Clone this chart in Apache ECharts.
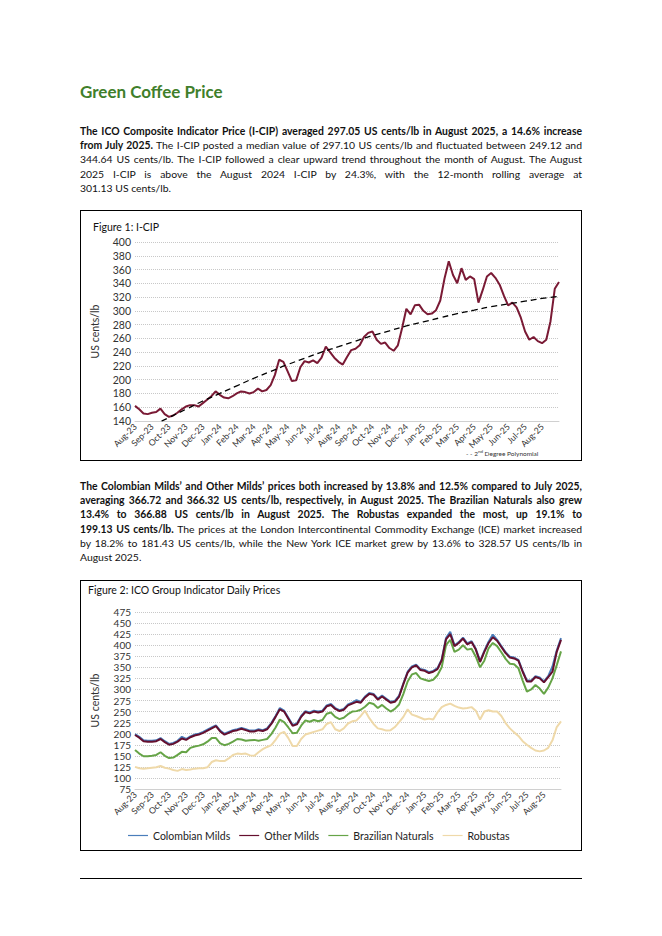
<!DOCTYPE html>
<html>
<head>
<meta charset="utf-8">
<script src="https://cdn.jsdelivr.net/npm/echarts/dist/echarts.min.js"></script>
<style>
html,body{margin:0;padding:0;}
body{width:662px;height:936px;background:#fff;position:relative;font-family:Lato,"Noto Sans",sans-serif;color:#111;overflow:hidden;}
.title{position:absolute;left:80px;top:82px;font-size:17px;font-weight:bold;color:#3f7f2b;line-height:20px;white-space:nowrap;}
.para{position:absolute;left:80px;width:502px;font-size:10.4px;line-height:14.2px;}
.ln{white-space:nowrap;height:14.2px;}
.box{position:absolute;left:80px;width:502px;border:1px solid #000;box-sizing:border-box;}
.chart{position:absolute;left:0;top:0;width:500px;}
.rule{position:absolute;left:80px;top:878px;width:502px;height:1px;background:#000;}
</style>
</head>
<body>
<div class="title">Green Coffee Price</div>
<div class="para" style="top:124px;">
  <div class="ln j"><span><b>The ICO Composite Indicator Price (I-CIP) averaged 297.05 US cents/lb in August 2025, a 14.6% increase</b></span></div>
  <div class="ln j"><span><b>from July 2025.</b> The I-CIP posted a median value of 297.10 US cents/lb and fluctuated between 249.12 and</span></div>
  <div class="ln j"><span>344.64 US cents/lb. The I-CIP followed a clear upward trend throughout the month of August. The August</span></div>
  <div class="ln j"><span>2025 I-CIP is above the August 2024 I-CIP by 24.3%, with the 12-month rolling average at</span></div>
  <div class="ln"><span>301.13 US cents/lb.</span></div>
</div>
<div class="box" style="top:210px;height:251px;"><div id="c1" class="chart" style="height:249px;"></div></div>
<div class="para" style="top:479px;">
  <div class="ln j"><span><b>The Colombian Milds’ and Other Milds’ prices both increased by 13.8% and 12.5% compared to July 2025,</b></span></div>
  <div class="ln j"><span><b>averaging 366.72 and 366.32 US cents/lb, respectively, in August 2025. The Brazilian Naturals also grew</b></span></div>
  <div class="ln j"><span><b>13.4% to 366.88 US cents/lb in August 2025. The Robustas expanded the most, up 19.1% to</b></span></div>
  <div class="ln j"><span><b>199.13 US cents/lb.</b> The prices at the London Intercontinental Commodity Exchange (ICE) market increased</span></div>
  <div class="ln j"><span>by 18.2% to 181.43 US cents/lb, while the New York ICE market grew by 13.6% to 328.57 US cents/lb in</span></div>
  <div class="ln"><span>August 2025.</span></div>
</div>
<div class="box" style="top:580px;height:271px;"><div id="c2" class="chart" style="height:269px;"></div></div>
<div class="rule"></div>
<script>
// justify each line to the column width
document.querySelectorAll('.ln.j').forEach(function(el){
  var s = el.firstElementChild;
  var w = s.getBoundingClientRect().width;
  var txt = el.textContent.trim();
  var n = (txt.match(/ /g)||[]).length;
  var diff = 502 - w;
  if (diff < -n*0.8) {
    s.style.letterSpacing = ((diff + n*0.8)/txt.length) + 'px';
    w = s.getBoundingClientRect().width;
    diff = 502 - w;
  }
  s.style.wordSpacing = (diff/n) + 'px';
});

// ---------- data ----------
var months = ['Aug-23','Sep-23','Oct-23','Nov-23','Dec-23','Jan-24','Feb-24','Mar-24','Apr-24','May-24','Jun-24','Jul-24',
              'Aug-24','Sep-24','Oct-24','Nov-24','Dec-24','Jan-25','Feb-25','Mar-25','Apr-25','May-25','Jun-25','Jul-25','Aug-25'];

// weekly readings (4 per month, plus end of Aug-25)
var icip = [162,157,151,150, 152,153,158,150, 146,148,152,157, 161,163,163,161, 166,171,176,183,
            178,174,173,176, 180,183,182,180, 182,187,183,185, 192,207,229,226, 212,198,199,218,
            227,225,228,224, 232,248,240,232, 226,222,233,243, 245,250,262,268, 270,258,252,254,
            246,242,250,275, 303,295,308,309, 300,295,296,301, 315,347,372,352, 340,362,345,350,
            346,312,330,350, 355,348,338,322, 308,312,305,290, 270,258,262,256, 253,258,285,332, 342];

// 2nd degree polynomial trend, read monthly
var icipTrend = [120,133,145,157,169,180,191,202,212,222,231,240,248,256,264,271,278,284,290,296,301,306,310,314,318,321];

var colombian = [199,193,185,184, 184,185,190,183, 177,179,184,193, 188,194,198,200, 204,209,214,219,
                 207,200,204,208, 210,213,210,207, 207,210,208,212, 224,240,258,252, 236,220,223,240,
                 251,248,252,250, 252,264,267,258, 253,256,266,270, 276,272,284,292, 290,279,286,279,
                 272,274,286,314, 340,352,356,346, 344,339,342,348, 368,416,430,400, 407,417,404,409,
                 392,364,387,408, 424,412,398,384, 374,372,367,342, 320,320,330,327, 318,330,352,388, 416];
var otherMilds = [197,191,183,182, 182,183,188,181, 175,177,182,189, 186,192,196,198, 202,207,212,217,
                  205,198,202,206, 208,211,208,205, 205,208,206,210, 222,238,255,250, 234,218,221,238,
                  249,246,250,248, 250,262,265,256, 251,254,264,268, 272,270,282,290, 288,277,284,277,
                  270,272,284,312, 338,350,354,344, 342,337,340,346, 366,413,425,398, 405,415,402,407,
                  390,362,385,405, 418,410,396,382, 372,370,365,340, 318,318,328,325, 316,328,340,385, 412];
var brazilian = [163,155,149,149, 150,152,158,150, 145,146,152,159, 158,168,171,173, 176,182,190,190,
                 178,174,177,182, 188,187,184,185, 186,184,186,188, 199,214,232,226, 214,201,202,218,
                 230,227,231,228, 231,245,248,238, 233,236,244,250, 251,254,261,270, 267,258,265,257,
                 250,256,266,290, 318,334,337,325, 322,319,322,332, 350,400,412,385, 390,400,390,392,
                 374,350,365,393, 405,398,384,369, 358,357,348,320, 295,300,310,302, 290,304,325,355, 386];
var robustas = [125,122,121,122, 123,124,127,123, 121,118,116,120, 118,119,121,122, 122,124,136,140,
                138,138,144,152, 155,154,155,151, 150,158,165,170, 174,186,200,204, 190,172,172,188,
                198,201,204,207, 210,222,226,210, 206,212,223,228, 230,240,252,235, 222,212,210,207,
                208,215,226,238, 255,243,240,236, 232,234,232,248, 260,265,268,263, 259,257,258,260,
                252,232,250,253, 250,250,240,224, 212,203,195,183, 175,168,162,160, 162,168,185,215, 228];

var groupNames = ['Colombian Milds','Other Milds','Brazilian Naturals','Robustas'];
var groupColors = ['#4a7ebb','#650f2e','#66a447','#efd9a9'];

// ---------- axis categories ----------
var cats = [];
months.forEach(function(m){ for (var j=0;j<4;j++) cats.push(m+'#'+j); });
cats.push('end#1');

var FONT = 'Lato';
function xAxisCfg(){
  return {
    type:'category', data:cats, boundaryGap:false,
    axisLine:{lineStyle:{color:'#d0d0d0', width:1}},
    axisTick:{show:false},
    splitLine:{show:false},
    axisLabel:{
      rotate:45, fontSize:8.7, color:'#333', fontFamily:FONT, margin:4,
      interval:function(i, v){ return v.split('#')[1]==='0'; },
      formatter:function(v){ var p=v.split('#'); return p[1]==='0' ? p[0] : ''; }
    }
  };
}
function yAxisCfg(min,max,step,fs){
  return {
    type:'value', min:min, max:max, interval:step,
    name:'US cents/lb', nameLocation:'middle', nameGap:35,
    nameTextStyle:{fontSize:10.5, color:'#333', fontFamily:FONT},
    axisLine:{show:false}, axisTick:{show:false},
    axisLabel:{fontSize:fs, color:'#333', fontFamily:FONT, margin:4},
    splitLine:{lineStyle:{type:[1,1], color:'#c8c8c8', width:1}}
  };
}

var c1 = echarts.init(document.getElementById('c1'), null, {renderer:'svg'});
c1.setOption({
  animation:false,
  title:{text:'Figure 1: I-CIP', left:7, top:5, textStyle:{fontSize:10.5, fontWeight:'normal', color:'#111', fontFamily:FONT}},
  grid:{left:53, right:22, top:31, bottom:39},
  xAxis:xAxisCfg(),
  yAxis:yAxisCfg(140,400,20,10.5),
  series:[
    {name:'I-CIP', type:'line', data:icip, showSymbol:false, symbol:'none', lineStyle:{width:2, color:'#7a1a35'}, z:2},
    {name:'2nd Degree Polynomial', type:'line', smooth:true, showSymbol:false, symbol:'none', clip:true,
     data:icipTrend.map(function(v,i){ return [i*4, v]; }),
     lineStyle:{width:1.3, color:'#000', type:[6,4]}, z:3}
  ],
  graphic:[{
    type:'text', left:385, top:238,
    style:{
      text:'- - 2{sup|nd} Degree Polynomial',
      font:'6.5px Lato', fill:'#333',
      rich:{sup:{fontSize:4.5, fontFamily:FONT, fill:'#333', verticalAlign:'top', padding:[0,0,3,0]}}
    }
  }]
});

var c2 = echarts.init(document.getElementById('c2'), null, {renderer:'svg'});
var groupData = [colombian, otherMilds, brazilian, robustas];
c2.setOption({
  animation:false,
  title:{text:'Figure 2: ICO Group Indicator Daily Prices', left:2, top:-2, textStyle:{fontSize:10.5, fontWeight:'normal', color:'#111', fontFamily:FONT}},
  grid:{left:53, right:20, top:31, bottom:61},
  legend:{
    data:groupNames, left:42, top:244, icon:'rect', itemWidth:20, itemHeight:1.2, itemGap:9,
    textStyle:{fontSize:10.5, color:'#222', fontFamily:FONT}
  },
  xAxis:xAxisCfg(),
  yAxis:yAxisCfg(75,475,25,10),
  series:groupNames.map(function(n,k){
    return {name:n, type:'line', data:groupData[k], showSymbol:false, symbol:'none',
            color:groupColors[k], lineStyle:{width:2, color:groupColors[k]}, z:[2,3,2,1][k]};
  })
});
</script>
</body>
</html>
